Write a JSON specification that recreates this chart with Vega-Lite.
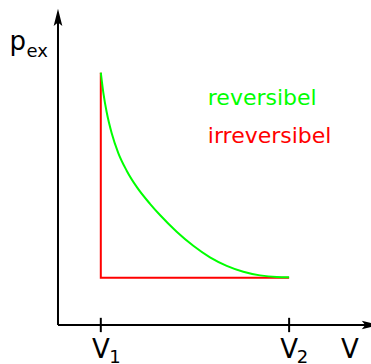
{
  "$schema": "https://vega.github.io/schema/vega-lite/v6.json",
  "width": 371,
  "height": 364,
  "autosize": "none",
  "padding": 0,
  "background": "white",
  "config": {"view": {"stroke": null}},
  "datasets": {
    "reversibel": [
      {"V": 1.000, "p": 5.290},
      {"V": 1.058, "p": 4.878},
      {"V": 1.138, "p": 4.459},
      {"V": 1.255, "p": 4.019},
      {"V": 1.409, "p": 3.604},
      {"V": 1.605, "p": 3.235},
      {"V": 1.839, "p": 2.895},
      {"V": 2.150, "p": 2.540},
      {"V": 2.383, "p": 2.305},
      {"V": 2.773, "p": 1.955},
      {"V": 3.161, "p": 1.660},
      {"V": 3.551, "p": 1.418},
      {"V": 3.942, "p": 1.240},
      {"V": 4.330, "p": 1.117},
      {"V": 4.720, "p": 1.040},
      {"V": 5.110, "p": 1.005},
      {"V": 5.400, "p": 1.000}
    ],
    "irreversibel": [
      {"step": 0, "V": 1.0, "p": 5.29},
      {"step": 1, "V": 1.0, "p": 0.99},
      {"step": 2, "V": 5.4, "p": 0.99}
    ],
    "ticks": [{"V": 1.0, "p": -0.15, "p2": 0.15}, {"V": 5.4, "p": -0.15, "p2": 0.15}],
    "labels": [
      {"V": 1.0, "p": -0.69, "text": "V"},
      {"V": 5.4, "p": -0.69, "text": "V"},
      {"V": 6.82, "p": -0.69, "text": "V"}
    ],
    "subs": [
      {"V": 1.2, "p": -0.8, "text": "1"},
      {"V": 5.58, "p": -0.8, "text": "2"}
    ]
  },
  "encoding": {
    "x": {"field": "V", "type": "quantitative", "axis": null,
          "scale": {"domain": [-1.355, 7.313], "nice": false, "zero": false}},
    "y": {"field": "p", "type": "quantitative", "axis": null,
          "scale": {"domain": [-0.818, 6.813], "nice": false, "zero": false}}
  },
  "layer": [
    {
      "description": "x axis line",
      "data": {"values": [{"V": 0, "V2": 7.2, "p": 0}]},
      "mark": {"type": "rule", "color": "black", "strokeWidth": 2},
      "encoding": {"x2": {"field": "V2"}}
    },
    {
      "description": "p axis line",
      "data": {"values": [{"V": 0, "p": 0, "p2": 6.4}]},
      "mark": {"type": "rule", "color": "black", "strokeWidth": 2},
      "encoding": {"y2": {"field": "p2"}}
    },
    {
      "description": "arrow heads",
      "data": {"values": [{"V": 0, "p": 6.45, "dir": "up"}]},
      "mark": {"type": "point", "filled": true, "color": "black", "opacity": 1,
               "shape": "M0,-1L0.5,1L0,0.6L-0.5,1Z", "size": 300}
    },
    {
      "data": {"values": [{"V": 7.3, "p": 0, "dir": "right"}]},
      "mark": {"type": "point", "filled": true, "color": "black", "opacity": 1,
               "shape": "M1,0L-1,0.5L-0.6,0L-1,-0.5Z", "size": 300}
    },
    {
      "description": "tick marks at V1 and V2",
      "data": {"name": "ticks"},
      "mark": {"type": "rule", "color": "black", "strokeWidth": 2},
      "encoding": {"y2": {"field": "p2"}}
    },
    {
      "data": {"name": "irreversibel"},
      "mark": {"type": "line", "color": "#ff0000", "strokeWidth": 2},
      "encoding": {"order": {"field": "step"}}
    },
    {
      "data": {"name": "reversibel"},
      "mark": {"type": "line", "color": "#00ff00", "strokeWidth": 2, "interpolate": "monotone"}
    },
    {
      "data": {"values": [{"V": 3.5, "p": 4.61, "text": "reversibel"}]},
      "mark": {"type": "text", "align": "left", "baseline": "alphabetic", "font": "DejaVu Sans", "fontSize": 22, "color": "#00ff00"},
      "encoding": {"text": {"field": "text"}}
    },
    {
      "data": {"values": [{"V": 3.5, "p": 3.82, "text": "irreversibel"}]},
      "mark": {"type": "text", "align": "left", "baseline": "alphabetic", "font": "DejaVu Sans", "fontSize": 22, "color": "#ff0000"},
      "encoding": {"text": {"field": "text"}}
    },
    {
      "data": {"values": [{"V": -1.133, "p": 5.765, "text": "p"}]},
      "mark": {"type": "text", "align": "left", "baseline": "alphabetic", "font": "DejaVu Sans", "fontSize": 26, "color": "black"},
      "encoding": {"text": {"field": "text"}}
    },
    {
      "data": {"values": [{"V": -0.736, "p": 5.62, "text": "ex"}]},
      "mark": {"type": "text", "align": "left", "baseline": "alphabetic", "font": "DejaVu Sans", "fontSize": 18, "color": "black"},
      "encoding": {"text": {"field": "text"}}
    },
    {
      "data": {"name": "labels"},
      "mark": {"type": "text", "align": "center", "baseline": "alphabetic", "font": "DejaVu Sans", "fontSize": 26, "color": "black"},
      "encoding": {"text": {"field": "text"}}
    },
    {
      "data": {"name": "subs"},
      "mark": {"type": "text", "align": "left", "baseline": "alphabetic", "font": "DejaVu Sans", "fontSize": 18, "color": "black"},
      "encoding": {"text": {"field": "text"}}
    }
  ]
}
